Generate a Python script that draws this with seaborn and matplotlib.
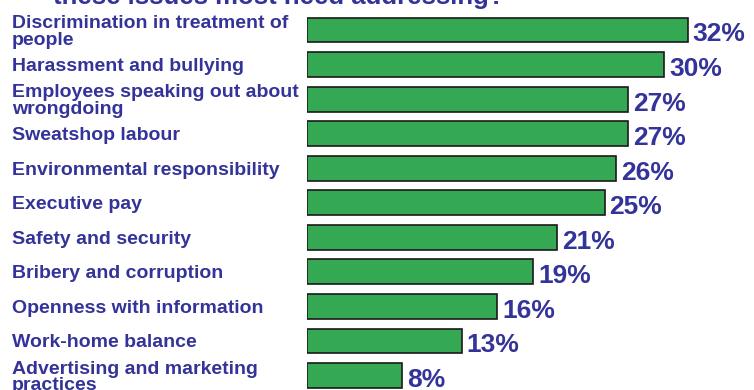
import matplotlib
matplotlib.use("Agg")
import matplotlib.pyplot as plt
import seaborn as sns
import pandas as pd

categories = [
    "Discrimination in treatment of\npeople",
    "Harassment and bullying",
    "Employees speaking out about\nwrongdoing",
    "Sweatshop labour",
    "Environmental responsibility",
    "Executive pay",
    "Safety and security",
    "Bribery and corruption",
    "Openness with information",
    "Work-home balance",
    "Advertising and marketing\npractices",
]
values = [32, 30, 27, 27, 26, 25, 21, 19, 16, 13, 8]
title_text = "these issues most need addressing?"

sns.set_theme(style="white")
plt.rcParams['font.family'] = ['Liberation Sans', 'DejaVu Sans']

TXT = "#333399"
GREEN = "#34A853"

df = pd.DataFrame({"issue": categories, "pct": values})

fig = plt.figure(figsize=(7.54, 3.90), dpi=100)
ax = fig.add_axes([307 / 754, 0, 1 - 307 / 754, 1])

sns.barplot(data=df, x="pct", y="issue", orient="h", color=GREEN,
            saturation=1, width=0.72, edgecolor="#1a1a1a", linewidth=1.2, ax=ax)

ax.set_xlim(0, 447 / 11.9)
ax.set_ylim(10 + 14.5 / 34.55, -30 / 34.55)
for s in ax.spines.values():
    s.set_visible(False)
ax.set_xticks([])
ax.set_xlabel("")
ax.set_ylabel("")
ax.tick_params(axis="y", length=0, pad=295 * 0.72)
for lbl in ax.get_yticklabels():
    lbl.set_horizontalalignment("left")
    lbl.set_fontweight("bold")
    lbl.set_fontsize(14)
    lbl.set_color(TXT)
    lbl.set_linespacing(0.98)

for i, v in enumerate(values):
    ax.text(v + 0.42, i + 0.13, f"{v}%", va="center", ha="left",
            fontsize=19, fontweight="bold", color=TXT)

fig.text(53 / 754, 1 - 4 / 390, title_text, ha="left", va="baseline",
         fontsize=18.5, fontweight="bold", color=TXT)

fig.savefig("out.png", dpi=100)
